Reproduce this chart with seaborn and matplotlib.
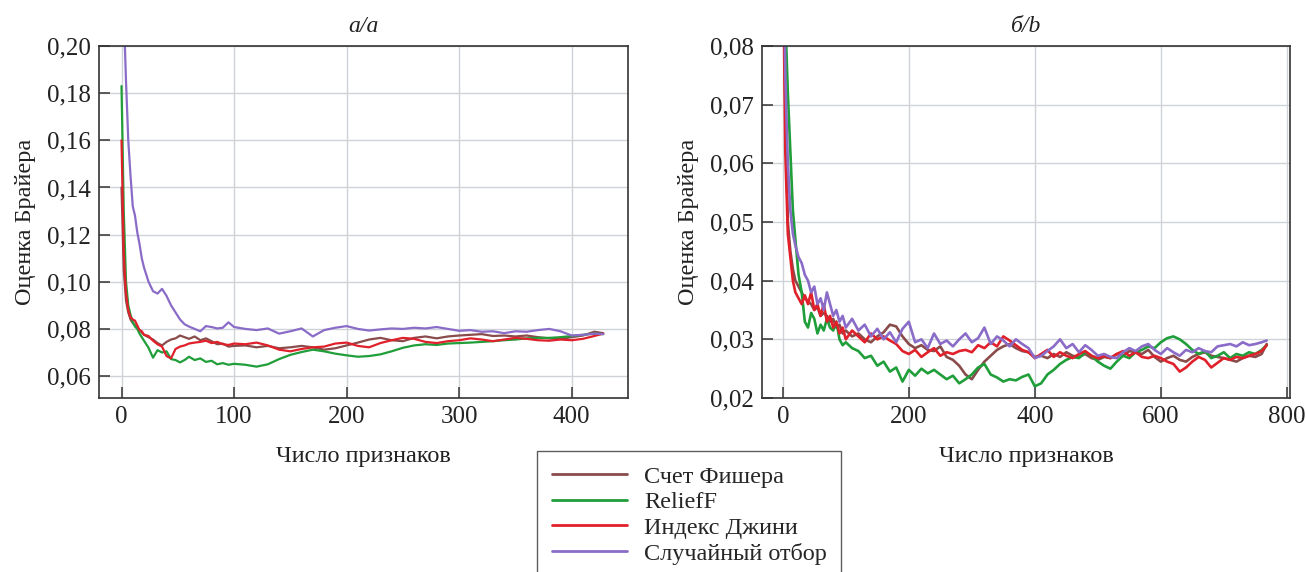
import numpy as np
import pandas as pd
import matplotlib
matplotlib.use("Agg")
import matplotlib.pyplot as plt
from matplotlib.ticker import FuncFormatter
import seaborn as sns

# ---- data ----
methods = ["Счет Фишера", "ReliefF", "Индекс Джини", "Случайный отбор"]
colors = ["#8a4b4b", "#1f9e3a", "#e0202a", "#8a6cc8"]

# panel a: number of features
x_a = ([0, 2, 4, 6, 8, 10, 12, 14, 16, 18,
        20, 24, 28, 32, 36, 40, 44, 48, 52, 56,
        60, 65, 70, 75, 80, 85, 90, 95, 100]
       + list(range(110, 410, 10)) + [410, 420, 428])

fisher_a = [0.140, 0.105, 0.092, 0.087, 0.084, 0.0825, 0.0815, 0.0805, 0.0795, 0.0785,
            0.0775, 0.0765, 0.0755, 0.0740, 0.0730, 0.0745, 0.0755, 0.0760, 0.0772, 0.0765,
            0.0758, 0.0768, 0.0752, 0.0760, 0.0748, 0.0735, 0.0738, 0.0725, 0.0728,
            0.0730, 0.0722, 0.0728, 0.0718, 0.0722, 0.0728, 0.0722, 0.0712, 0.0718, 0.0730,
            0.0742, 0.0755, 0.0762, 0.0752, 0.0748, 0.0762, 0.0768, 0.0760, 0.0768, 0.0772,
            0.0775, 0.0778, 0.0770, 0.0772, 0.0768, 0.0772, 0.0765, 0.0760, 0.0758, 0.0765,
            0.0772, 0.0788, 0.0782]
relief_a = [0.183, 0.130, 0.100, 0.090, 0.086, 0.083, 0.081, 0.080, 0.078, 0.0765,
            0.0750, 0.0720, 0.0678, 0.0710, 0.0700, 0.0705, 0.0672, 0.0668, 0.0658, 0.0668,
            0.0682, 0.0668, 0.0675, 0.0660, 0.0665, 0.0650, 0.0655, 0.0648, 0.0652,
            0.0648, 0.0640, 0.0650, 0.0672, 0.0690, 0.0702, 0.0712, 0.0705, 0.0695, 0.0688,
            0.0682, 0.0685, 0.0692, 0.0705, 0.0720, 0.0730, 0.0735, 0.0732, 0.0738, 0.0740,
            0.0742, 0.0745, 0.0748, 0.0752, 0.0755, 0.0760, 0.0762, 0.0762, 0.0765, 0.0770,
            0.0775, 0.0780, 0.0778]
gini_a = [0.160, 0.112, 0.095, 0.088, 0.085, 0.084, 0.0835, 0.0815, 0.0795, 0.0790,
          0.0775, 0.0770, 0.0750, 0.0735, 0.0725, 0.0685, 0.0675, 0.0715, 0.0725, 0.0730,
          0.0738, 0.0742, 0.0745, 0.0750, 0.0740, 0.0745, 0.0735, 0.0732, 0.0738,
          0.0735, 0.0742, 0.0730, 0.0712, 0.0705, 0.0715, 0.0722, 0.0725, 0.0738, 0.0742,
          0.0728, 0.0722, 0.0740, 0.0752, 0.0762, 0.0758, 0.0745, 0.0740, 0.0748, 0.0752,
          0.0760, 0.0755, 0.0748, 0.0755, 0.0762, 0.0758, 0.0752, 0.0750, 0.0755, 0.0752,
          0.0758, 0.0770, 0.0780]
random_a = [0.250, 0.215, 0.185, 0.160, 0.145, 0.132, 0.128, 0.121, 0.116, 0.110,
            0.106, 0.100, 0.096, 0.095, 0.097, 0.094, 0.090, 0.087, 0.084, 0.082,
            0.0810, 0.0800, 0.0790, 0.0812, 0.0808, 0.0802, 0.0805, 0.0828, 0.0808,
            0.0800, 0.0795, 0.0802, 0.0780, 0.0790, 0.0802, 0.0768, 0.0795, 0.0805, 0.0812,
            0.0800, 0.0793, 0.0798, 0.0802, 0.0800, 0.0805, 0.0802, 0.0808, 0.0800, 0.0792,
            0.0795, 0.0788, 0.0790, 0.0782, 0.0790, 0.0788, 0.0795, 0.0800, 0.0790, 0.0772,
            0.0775, 0.0780, 0.0778]

# panel b
x_b = ([0, 4, 8, 12, 16, 20, 25, 30, 35, 40, 45,
        50, 55, 60, 65, 70, 75, 80, 85, 90, 95, 100]
       + list(range(110, 770, 10)) + [768])

fisher_b = [0.100, 0.070, 0.050, 0.045, 0.042, 0.040, 0.039, 0.038, 0.037, 0.0365, 0.036,
            0.035, 0.0355, 0.034, 0.0345, 0.034, 0.033, 0.0335, 0.032, 0.0325, 0.031, 0.0315,
            0.0305, 0.0310, 0.0300, 0.0295, 0.0305, 0.0312, 0.0325, 0.0322, 0.0305, 0.0292,
            0.0285, 0.0290, 0.0282, 0.0280, 0.0288, 0.0270, 0.0265, 0.0255, 0.0240, 0.0232,
            0.0248, 0.0262, 0.0272, 0.0282, 0.0288, 0.0292, 0.0285, 0.0280, 0.0278, 0.0270,
            0.0272, 0.0268, 0.0275, 0.0270, 0.0278, 0.0272, 0.0270, 0.0275, 0.0268, 0.0265,
            0.0270, 0.0268, 0.0275, 0.0272, 0.0280, 0.0278, 0.0275, 0.0282, 0.0270, 0.0262,
            0.0268, 0.0272, 0.0265, 0.0262, 0.0270, 0.0275, 0.0278, 0.0272, 0.0270, 0.0268,
            0.0265, 0.0262, 0.0268, 0.0272, 0.0270, 0.0275, 0.0292]
relief_b = [0.095, 0.085, 0.072, 0.062, 0.052, 0.047, 0.041, 0.038, 0.033, 0.032, 0.0345,
            0.0335, 0.031, 0.0325, 0.0315, 0.0335, 0.032, 0.0315, 0.033, 0.030, 0.029, 0.0295,
            0.0285, 0.0280, 0.0268, 0.0272, 0.0255, 0.0262, 0.0245, 0.0252, 0.0228, 0.0248,
            0.0238, 0.0250, 0.0242, 0.0248, 0.0240, 0.0232, 0.0238, 0.0225, 0.0232, 0.0240,
            0.0252, 0.0258, 0.0240, 0.0235, 0.0228, 0.0232, 0.0230, 0.0236, 0.0240, 0.0220,
            0.0225, 0.0240, 0.0248, 0.0258, 0.0265, 0.0270, 0.0268, 0.0278, 0.0272, 0.0262,
            0.0255, 0.0250, 0.0262, 0.0272, 0.0268, 0.0278, 0.0282, 0.0288, 0.0285, 0.0295,
            0.0302, 0.0305, 0.0300, 0.0292, 0.0282, 0.0275, 0.0280, 0.0268, 0.0272, 0.0278,
            0.0268, 0.0275, 0.0272, 0.0278, 0.0275, 0.0282, 0.0290]
gini_b = [0.100, 0.062, 0.048, 0.044, 0.040, 0.038, 0.037, 0.036, 0.0375, 0.036, 0.038,
          0.035, 0.036, 0.034, 0.036, 0.033, 0.034, 0.032, 0.033, 0.031, 0.032, 0.030,
          0.0315, 0.0305, 0.0295, 0.0310, 0.0300, 0.0305, 0.0298, 0.0292, 0.0280, 0.0275,
          0.0282, 0.0270, 0.0278, 0.0285, 0.0272, 0.0278, 0.0275, 0.0280, 0.0282, 0.0278,
          0.0290, 0.0285, 0.0295, 0.0288, 0.0305, 0.0298, 0.0290, 0.0282, 0.0278, 0.0268,
          0.0275, 0.0282, 0.0270, 0.0278, 0.0272, 0.0268, 0.0275, 0.0280, 0.0272, 0.0268,
          0.0272, 0.0268, 0.0275, 0.0280, 0.0272, 0.0278, 0.0270, 0.0268, 0.0272, 0.0268,
          0.0262, 0.0258, 0.0245, 0.0252, 0.0262, 0.0270, 0.0265, 0.0252, 0.0260, 0.0268,
          0.0265, 0.0270, 0.0268, 0.0272, 0.0275, 0.0280, 0.0290]
random_b = [0.110, 0.075, 0.060, 0.052, 0.048, 0.046, 0.044, 0.043, 0.041, 0.040, 0.038,
            0.039, 0.036, 0.037, 0.035, 0.038, 0.036, 0.034, 0.035, 0.033, 0.034, 0.032,
            0.0335, 0.0315, 0.0325, 0.0305, 0.0318, 0.0300, 0.0312, 0.0295, 0.0318, 0.0330,
            0.0295, 0.0300, 0.0285, 0.0310, 0.0292, 0.0298, 0.0288, 0.0300, 0.0310, 0.0295,
            0.0302, 0.0320, 0.0292, 0.0305, 0.0298, 0.0288, 0.0300, 0.0292, 0.0285, 0.0268,
            0.0272, 0.0280, 0.0288, 0.0300, 0.0285, 0.0292, 0.0278, 0.0290, 0.0282, 0.0272,
            0.0275, 0.0270, 0.0268, 0.0278, 0.0285, 0.0280, 0.0288, 0.0292, 0.0282, 0.0275,
            0.0285, 0.0278, 0.0272, 0.0282, 0.0278, 0.0285, 0.0280, 0.0278, 0.0288, 0.0290,
            0.0292, 0.0288, 0.0295, 0.0290, 0.0292, 0.0295, 0.0298]


def long_frame(x, series):
    parts = []
    for name, vals in zip(methods, series):
        assert len(vals) == len(x), (name, len(vals), len(x))
        parts.append(pd.DataFrame({"x": x, "y": vals, "method": name}))
    return pd.concat(parts, ignore_index=True)


df_a = long_frame(x_a, [fisher_a, relief_a, gini_a, random_a])
df_b = long_frame(x_b, [fisher_b, relief_b, gini_b, random_b])

sns.set_style("whitegrid")
plt.rcParams["font.family"] = ["Liberation Serif", "DejaVu Serif"]
plt.rcParams["axes.unicode_minus"] = False

fig = plt.figure(figsize=(13.06, 5.72), dpi=100)
ax_a = fig.add_axes([99 / 1306, 174 / 572, 529 / 1306, 352 / 572])
ax_b = fig.add_axes([762 / 1306, 174 / 572, 528 / 1306, 352 / 572])

palette = dict(zip(methods, colors))
comma = FuncFormatter(lambda v, p: f"{v:.2f}".replace(".", ","))

for ax, df, title, xlim, ylim, xticks, yticks, lw in [
    (ax_a, df_a, "а/a", (-20, 450), (0.0507, 0.20),
     [0, 100, 200, 300, 400], np.arange(0.06, 0.201, 0.02), 1.6),
    (ax_b, df_b, "б/b", (-33, 805), (0.02, 0.08),
     [0, 200, 400, 600, 800], np.arange(0.02, 0.081, 0.01), 1.9),
]:
    sns.lineplot(data=df, x="x", y="y", hue="method", palette=palette,
                 linewidth=lw, ax=ax, legend=False, estimator=None, sort=False)
    ax.set_xlim(*xlim)
    ax.set_ylim(*ylim)
    ax.set_xticks(xticks)
    ax.set_yticks(yticks)
    ax.yaxis.set_major_formatter(comma)
    ax.grid(True, color="#cfd3d8", linewidth=1)
    for s in ax.spines.values():
        s.set_color("#333333")
        s.set_linewidth(1.2)
    ax.tick_params(axis="both", direction="in", length=8, width=1.1,
                   color="#333333", labelsize=18, labelcolor="#222222",
                   bottom=True, left=True, pad=6)
    ax.set_title(title, fontsize=17, style="italic", pad=10, color="#222222")
    ax.set_xlabel("Число признаков", fontsize=17.5, labelpad=13, color="#222222")
    ax.set_ylabel("Оценка Брайера", fontsize=17.5, labelpad=8, color="#222222")

handles = [plt.Line2D([], [], color=c, linewidth=2) for c in colors]
leg = fig.legend(handles, methods, loc="upper left",
                 bbox_to_anchor=(537 / 1306, 1 - 451 / 572),
                 fontsize=17.5, frameon=True, fancybox=False, handlelength=3.1,
                 handletextpad=0.7, labelspacing=0.15, borderpad=0.6,
                 borderaxespad=0)
leg.get_frame().set_edgecolor("#333333")
leg.get_frame().set_linewidth(1.0)

fig.savefig("out.png", dpi=100)
